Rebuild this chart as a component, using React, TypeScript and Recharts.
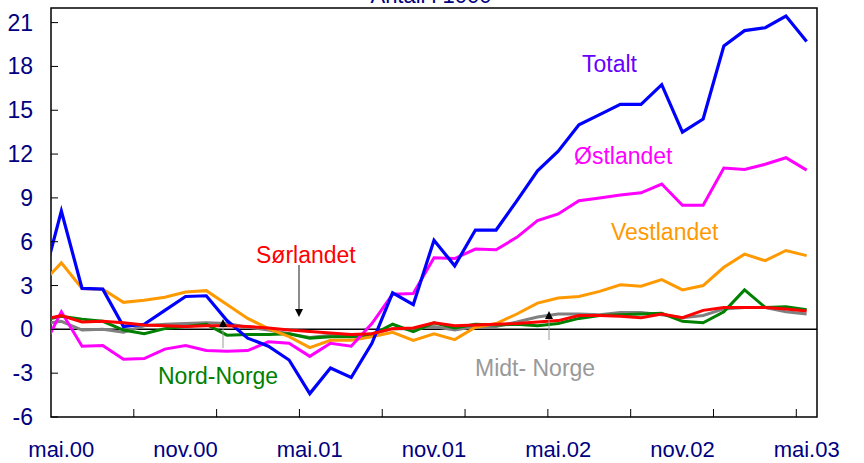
import { LineChart, Line, XAxis, YAxis, ReferenceLine, ReferenceArea } from 'recharts';

// month index: -1 = apr.00 (clipped at left edge), 0 = mai.00 ... 36 = mai.03
const monthIdx = Array.from({ length: 38 }, (_, k) => k - 1);

const totalt = [2.7, 8.1, 2.8, 2.75, 0.2, 0.35, 1.3, 2.25, 2.3, 0.6, -0.6, -1.15, -2.1, -4.4, -2.65, -3.3, -0.95, 2.5, 1.7, 6.1, 4.35, 6.8, 6.8, 8.8, 10.85, 12.2, 14.0, 14.7, 15.4, 15.4, 16.75, 13.5, 14.4, 19.4, 20.45, 20.65, 21.45, 19.7];
const ostlandet = [-1.6, 1.2, -1.15, -1.1, -2.05, -2.0, -1.35, -1.1, -1.45, -1.5, -1.45, -0.85, -0.95, -1.85, -0.95, -1.15, 0.4, 2.4, 2.45, 4.9, 4.85, 5.5, 5.45, 6.3, 7.45, 7.9, 8.8, 9.0, 9.2, 9.35, 9.95, 8.5, 8.5, 11.05, 10.95, 11.3, 11.75, 10.9];
const vestlandet = [3.05, 4.55, 2.8, 2.75, 1.85, 2.0, 2.2, 2.55, 2.65, 1.7, 0.75, 0.05, -0.5, -1.25, -0.75, -0.75, -0.5, -0.2, -0.75, -0.3, -0.7, 0.15, 0.4, 1.05, 1.8, 2.15, 2.25, 2.6, 3.05, 2.95, 3.4, 2.7, 3.0, 4.25, 5.15, 4.7, 5.4, 5.05];
const sorlandet = [0.65, 0.95, 0.5, 0.55, 0.45, 0.3, 0.25, 0.2, 0.25, 0.25, 0.2, 0.1, -0.05, -0.15, -0.25, -0.35, -0.3, 0.05, 0.1, 0.45, 0.25, 0.3, 0.35, 0.4, 0.5, 0.6, 0.95, 0.95, 0.9, 0.8, 1.05, 0.8, 1.3, 1.5, 1.5, 1.5, 1.4, 1.25];
const nordNorge = [0.6, 0.9, 0.7, 0.55, -0.05, -0.3, 0.05, 0.2, 0.35, -0.4, -0.35, -0.35, -0.3, -0.6, -0.5, -0.5, -0.4, 0.35, -0.15, 0.45, 0.1, 0.35, 0.3, 0.35, 0.25, 0.4, 0.75, 0.95, 1.0, 1.05, 1.1, 0.55, 0.45, 1.2, 2.7, 1.5, 1.55, 1.35];
const midtNorge = [0.35, 0.55, -0.05, 0.0, -0.2, 0.25, 0.35, 0.4, 0.45, 0.4, 0.15, -0.05, -0.3, -0.55, -0.4, -0.5, -0.3, 0.05, 0.05, 0.2, -0.05, 0.2, 0.2, 0.5, 0.85, 1.05, 1.05, 1.0, 1.15, 1.15, 1.0, 0.8, 0.95, 1.4, 1.5, 1.5, 1.2, 1.05];

const xLabels = ['mai.00', 'nov.00', 'mai.01', 'nov.01', 'mai.02', 'nov.02', 'mai.03'];
const labelTicks = xLabels.map((_, k) => k * 6);
const markTicks = [3.5, 7.5, 11.5, 15.5, 19.5, 23.5, 27.5, 31.5, 35.5];
const yTicks = [-6, -3, 0, 3, 6, 9, 12, 15, 18, 21];

const data = monthIdx.map((i, k) => ({
  i,
  totalt: totalt[k],
  ostlandet: ostlandet[k],
  vestlandet: vestlandet[k],
  sorlandet: sorlandet[k],
  nordNorge: nordNorge[k],
  midtNorge: midtNorge[k],
}));

const W = 864;
const H = 463;
const PLOT_L = 51;
const PLOT_R = 817;
const PLOT_T = 8;
const PLOT_B = 417;
const NAVY = '#000080';
const FONT = 'Arial, "Liberation Sans", sans-serif';

const LeftTick = (props: any) => {
  const { y, payload } = props;
  return (
    <g>
      <line x1={PLOT_L} x2={PLOT_L + 7} y1={y} y2={y} stroke="#000" strokeWidth={1} />
      <text x={PLOT_L - 18} y={y} textAnchor="end" dominantBaseline="central" fill={NAVY} fontSize={23} fontFamily={FONT}>
        {payload.value}
      </text>
    </g>
  );
};

const RightTick = (props: any) => {
  const { y, payload } = props;
  return (
    <g>
      <line x1={PLOT_R - 7} x2={PLOT_R} y1={y} y2={y} stroke="#000" strokeWidth={1} />
      <text x={PLOT_R + 20} y={y} textAnchor="start" dominantBaseline="central" fill={NAVY} fontSize={23} fontFamily={FONT}>
        {payload.value}
      </text>
    </g>
  );
};

const BottomTick = (props: any) => {
  const { x, payload } = props;
  const v = payload.value as number;
  if (Number.isInteger(v)) {
    return (
      <text x={x} y={457} textAnchor="middle" fill={NAVY} fontSize={22} fontFamily={FONT}>
        {xLabels[v / 6]}
      </text>
    );
  }
  return <line x1={x} x2={x} y1={PLOT_B} y2={PLOT_B - 8} stroke="#000" strokeWidth={1} />;
};

export default function App() {
  return (
    <div style={{ position: 'absolute', left: 0, top: 0, width: W, height: H, background: '#fff' }}>
      <LineChart width={W} height={H} data={data} margin={{ top: PLOT_T, right: 0, bottom: 0, left: 0 }}>
        <XAxis
          dataKey="i"
          type="number"
          domain={[-0.5, 36.5]}
          allowDataOverflow
          ticks={[...labelTicks, ...markTicks].sort((a, b) => a - b)}
          interval={0}
          tick={<BottomTick />}
          tickLine={false}
          axisLine={false}
          height={H - PLOT_B}
        />
        <YAxis yAxisId="l" domain={[-6, 22]} ticks={yTicks} interval={0} tick={<LeftTick />} tickLine={false} axisLine={false} width={PLOT_L} />
        <YAxis yAxisId="r" orientation="right" domain={[-6, 22]} ticks={yTicks} interval={0} tick={<RightTick />} tickLine={false} axisLine={false} width={W - PLOT_R} />
        <ReferenceArea yAxisId="l" x1={-0.5} x2={36.5} y1={-6} y2={22} fill="none" stroke="#000" strokeWidth={1.5} />
        <ReferenceLine yAxisId="l" y={0} stroke="#000" strokeWidth={1.5} />
        <Line yAxisId="l" dataKey="midtNorge" stroke="#808080" strokeWidth={3} dot={false} isAnimationActive={false} />
        <Line yAxisId="l" dataKey="nordNorge" stroke="#008000" strokeWidth={3} dot={false} isAnimationActive={false} />
        <Line yAxisId="l" dataKey="vestlandet" stroke="#ff9900" strokeWidth={3} dot={false} isAnimationActive={false} />
        <Line yAxisId="l" dataKey="ostlandet" stroke="#ff00ff" strokeWidth={3} dot={false} isAnimationActive={false} />
        <Line yAxisId="l" dataKey="totalt" stroke="#0000ff" strokeWidth={3.2} dot={false} isAnimationActive={false} />
        <Line yAxisId="l" dataKey="sorlandet" stroke="#ff0000" strokeWidth={3} dot={false} isAnimationActive={false} />
      </LineChart>

      {/* annotations */}
      <svg width={W} height={H} style={{ position: 'absolute', left: 0, top: 0, pointerEvents: 'none' }} fontFamily={FONT}>
        <text x={431} y={3} textAnchor="middle" fill={NAVY} fontSize={22}>Antall i 1000</text>
        <text x={582} y={72} fill="#6600ff" fontSize={23}>Totalt</text>
        <text x={574} y={164} fill="#ff00ff" fontSize={23}>Østlandet</text>
        <text x={611} y={240} fill="#ff9900" fontSize={23}>Vestlandet</text>
        <text x={256} y={263} fill="#ff0000" fontSize={23}>Sørlandet</text>
        <text x={158} y={384} fill="#008000" fontSize={23}>Nord-Norge</text>
        <text x={475} y={376} fill="#999999" fontSize={23}>Midt- Norge</text>

        <line x1={299} x2={299} y1={265} y2={310} stroke="#666" strokeWidth={1.5} />
        <polygon points="295,309 303,309 299,317" fill="#000" />

        <line x1={223} x2={223} y1={348} y2={326} stroke="#999" strokeWidth={1} />
        <polygon points="219,327 227,327 223,319" fill="#000" />

        <line x1={549} x2={549} y1={340} y2={318} stroke="#999" strokeWidth={1} />
        <polygon points="545,319 553,319 549,311" fill="#000" />
      </svg>
    </div>
  );
}
